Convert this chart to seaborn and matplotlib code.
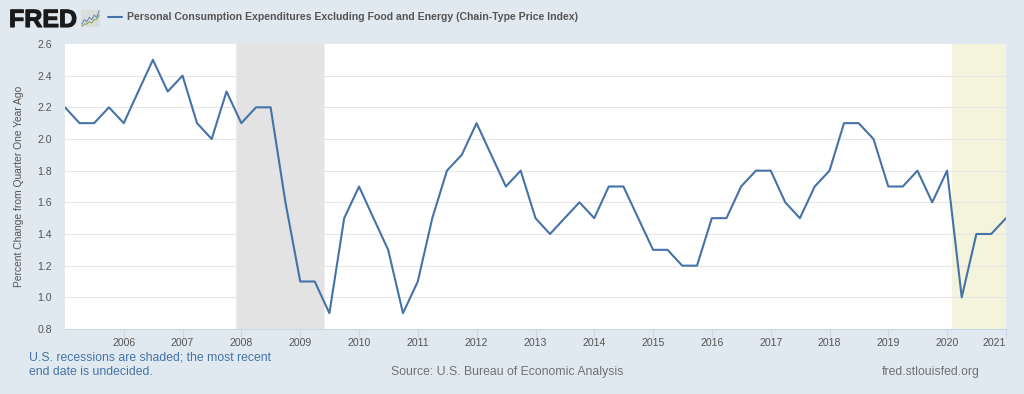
import pandas as pd
import matplotlib
matplotlib.use('Agg')
import matplotlib.pyplot as plt
import matplotlib.dates as mdates
import matplotlib.patheffects as pe
import seaborn as sns

# quarterly values, 2005 Q1 - 2021 Q1
pce = [2.2, 2.1, 2.1, 2.2,
       2.1, 2.3, 2.5, 2.3,
       2.4, 2.1, 2.0, 2.3,
       2.1, 2.2, 2.2, 1.6,
       1.1, 1.1, 0.9, 1.5,
       1.7, 1.5, 1.3, 0.9,
       1.1, 1.5, 1.8, 1.9,
       2.1, 1.9, 1.7, 1.8,
       1.5, 1.4, 1.5, 1.6,
       1.5, 1.7, 1.7, 1.5,
       1.3, 1.3, 1.2, 1.2,
       1.5, 1.5, 1.7, 1.8,
       1.8, 1.6, 1.5, 1.7,
       1.8, 2.1, 2.1, 2.0,
       1.7, 1.7, 1.8, 1.6,
       1.8, 1.0, 1.4, 1.4,
       1.5]
dates = pd.date_range('2005-01-01', periods=len(pce), freq='QS')
yticks = [0.8, 1.0, 1.2, 1.4, 1.6, 1.8, 2.0, 2.2, 2.4, 2.6]
xticks = list(range(2006, 2022))
recession = ('2007-12-01', '2009-06-01')
covid = ('2020-02-01', '2021-01-01')

# little logo chart
logo_blue = [1, 3, 2, 4, 3, 5, 4, 7]
logo_green = [0, 1, 1, 2, 1.5, 3, 3, 5]

BG = '#e1e9f0'
BLUE = '#4572a7'
GRAY = '#555555'

sns.set_theme(style='white')
plt.rcParams['font.family'] = ['Liberation Sans', 'DejaVu Sans']

df = pd.DataFrame({'date': dates, 'pce': pce})

fig = plt.figure(figsize=(10.24, 3.94), dpi=100, facecolor=BG)
ax = fig.add_axes([65 / 1024, 1 - 329 / 394, (1006 - 65) / 1024, (329 - 44) / 394])
ax.set_facecolor('white')

ax.axvspan(pd.Timestamp(recession[0]), pd.Timestamp(recession[1]), color='#e3e3e3', lw=0, zorder=1, snap=False)
ax.axvspan(pd.Timestamp(covid[0]), pd.Timestamp(covid[1]), color='#f4f3dc', lw=0, zorder=1)
for v in yticks[1:-1]:
    ax.axhline(v, color='#e6e6e6', lw=0.75, zorder=1.5)

sns.lineplot(data=df, x='date', y='pce', color=BLUE, lw=1.5, ax=ax, zorder=3)

ax.set_xlim(pd.Timestamp('2005-01-01'), pd.Timestamp('2021-01-01'))
ax.set_ylim(0.8, 2.6)
ax.set_yticks(yticks)
ax.set_yticklabels(['%.1f' % v for v in yticks])
ax.set_xticks([pd.Timestamp(str(y) + '-01-01') for y in xticks])
ax.xaxis.set_major_formatter(mdates.DateFormatter('%Y'))
ax.tick_params(axis='y', length=0, pad=9.5, labelsize=7.6, labelcolor=GRAY)
ax.tick_params(axis='x', length=6.5, width=0.8, color='#ccd6eb', pad=0, labelsize=7.6, labelcolor=GRAY, bottom=True)
ax.get_xticklabels()[-1].set_ha('right')
ax.set_xlabel('')
ax.set_ylabel('Percent Change from Quarter One Year Ago', fontsize=7.4, color='#555555', labelpad=9.5)
for name, s in ax.spines.items():
    s.set_visible(name == 'bottom')
ax.spines['bottom'].set_color('#ccd6eb')
ax.spines['bottom'].set_linewidth(0.8)

# header
fig.text(9 / 1024, 1 - 27 / 394, 'FRED', fontsize=18, fontweight='bold', color='#1a1a1a', va='baseline', ha='left',
         path_effects=[pe.withStroke(linewidth=0.8, foreground='#1a1a1a')])
fig.add_artist(plt.Line2D([108 / 1024, 122 / 1024], [1 - 17 / 394, 1 - 17 / 394], color=BLUE, lw=1.5))
fig.text(127 / 1024, 1 - 17 / 394, 'Personal Consumption Expenditures Excluding Food and Energy (Chain-Type Price Index)',
         fontsize=7.58, fontweight='bold', color='#555555', va='center', ha='left')

logo = fig.add_axes([81 / 1024, 1 - 27 / 394, 19 / 1024, 17 / 394])
logo.set_facecolor('#dbdcdc')
sns.lineplot(x=range(len(logo_blue)), y=logo_blue, color='#6f8db5', lw=0.8, ax=logo)
sns.lineplot(x=range(len(logo_green)), y=logo_green, color='#86a85a', lw=0.8, ax=logo)
logo.set_xticks([])
logo.set_yticks([])
logo.set_xlabel('')
logo.set_ylabel('')
for s in logo.spines.values():
    s.set_visible(False)

# footer
fig.text(29 / 1024, 1 - 351.5 / 394, 'U.S. recessions are shaded; the most recent\nend date is undecided.',
         fontsize=8.8, color=BLUE, va='top', ha='left', linespacing=1.27)
fig.text(391 / 1024, 1 - 372.5 / 394, 'Source: U.S. Bureau of Economic Analysis',
         fontsize=8.85, color='#707070', va='center', ha='left')
fig.text(882 / 1024, 1 - 372.5 / 394, 'fred.stlouisfed.org',
         fontsize=8.8, color='#707070', va='center', ha='left')

fig.savefig('out.png', dpi=100, facecolor=BG)
